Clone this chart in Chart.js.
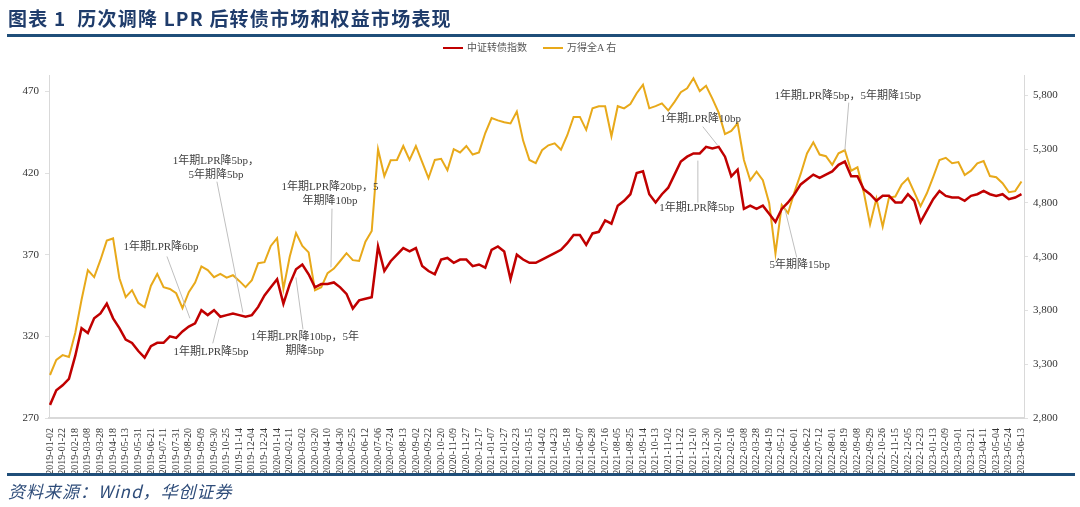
<!DOCTYPE html>
<html><head><meta charset="utf-8">
<script src="https://cdn.jsdelivr.net/npm/chart.js@4/dist/chart.umd.min.js"></script>
<style>
html,body{margin:0;padding:0;background:#fff;}
#wrap{position:relative;width:1080px;height:507px;overflow:hidden;}
#c{position:absolute;left:0;top:0;}
.title{position:absolute;left:8px;top:4px;font-family:"Noto Sans CJK SC",sans-serif;font-weight:bold;font-size:19px;color:#1f3c6b;white-space:nowrap;letter-spacing:1.2px;}
.rule{position:absolute;left:7px;width:1068px;height:3px;background:#1f4e79;}
.src{position:absolute;left:8px;top:478px;font-family:"Noto Sans CJK SC",sans-serif;font-style:italic;font-size:17px;letter-spacing:1px;color:#2f4d7a;white-space:nowrap;}
.leg{position:absolute;top:41px;font-family:"Liberation Serif","Noto Sans CJK SC",serif;font-size:10px;color:#555;white-space:nowrap;line-height:14px;}
.leg i{display:inline-block;width:20px;height:2px;vertical-align:middle;margin-right:4px;position:relative;top:-1px;}
</style></head>
<body><div id="wrap">
<canvas id="c" width="1080" height="507"></canvas>
<div class="title">图表 1&nbsp; 历次调降 LPR 后转债市场和权益市场表现</div>
<div class="rule" style="top:34px"></div>
<div class="leg" style="left:443px"><i style="background:#C00000"></i>中证转债指数</div>
<div class="leg" style="left:543px"><i style="background:#E8A91A"></i>万得全A 右</div>
<div class="rule" style="top:473px"></div>
<div class="src">资料来源：Wind，华创证券</div>
</div>
<script>
const tickLabels = ['2019-01-02','2019-01-22','2019-02-18','2019-03-08','2019-03-28','2019-04-18','2019-05-13','2019-05-31','2019-06-21','2019-07-11','2019-07-31','2019-08-20','2019-09-09','2019-09-30','2019-10-25','2019-11-14','2019-12-04','2019-12-24','2020-01-14','2020-02-11','2020-03-02','2020-03-20','2020-04-10','2020-04-30','2020-05-25','2020-06-12','2020-07-06','2020-07-24','2020-08-13','2020-09-02','2020-09-22','2020-10-20','2020-11-09','2020-11-27','2020-12-17','2021-01-07','2021-01-27','2021-02-23','2021-03-15','2021-04-02','2021-04-23','2021-05-18','2021-06-07','2021-06-28','2021-07-16','2021-08-05','2021-08-25','2021-09-14','2021-10-13','2021-11-02','2021-11-22','2021-12-10','2021-12-30','2022-01-20','2022-02-16','2022-03-08','2022-03-28','2022-04-19','2022-05-12','2022-06-01','2022-06-22','2022-07-12','2022-08-01','2022-08-19','2022-09-08','2022-09-29','2022-10-26','2022-11-15','2022-12-05','2022-12-23','2023-01-13','2023-02-09','2023-03-01','2023-03-21','2023-04-11','2023-05-04','2023-05-24','2023-06-13'];

// values sampled every half tick interval (7 trading days)
const cbValues = [
278,287,290,294,308,325,322,331,334,340,
331,325,318,316,311,307,314,316,316,320,
319,323,326,328,336,333,336,332,333,334,
333,332,333,338,345,350,355,340,352,361,
364,358,350,352,352,353,350,346,337,342,
343,344,375,360,366,370,374,372,374,363,
360,358,367,368,365,367,367,363,364,362,
373,375,372,355,370,367,365,365,367,369,
371,373,377,382,382,376,383,384,391,389,
400,403,407,420,421,407,402,407,411,419,
427,430,432,432,436,435,436,430,418,422,
398,400,398,400,395,390,398,402,407,413,
416,419,417,419,421,425,427,418,418,410,
407,403,406,406,402,402,407,403,390,397,
404,409,406,405,405,403,406,407,409,407,
406,407,404,405,407];

const waValues = [
3200,3340,3385,3367,3590,3900,4175,4110,4270,4450,
4470,4100,3924,3989,3870,3830,4030,4140,4017,4000,
3960,3822,3970,4060,4210,4175,4110,4140,4105,4128,
4075,4017,4082,4240,4249,4400,4472,4000,4300,4520,
4400,4340,3989,4017,4147,4190,4260,4333,4268,4260,
4440,4540,5300,5050,5197,5200,5330,5200,5330,5180,
5030,5200,5210,5104,5300,5270,5330,5250,5270,5450,
5590,5568,5550,5540,5650,5380,5200,5170,5290,5336,
5355,5295,5430,5600,5600,5480,5680,5700,5700,5420,
5700,5680,5720,5820,5900,5680,5700,5726,5660,5740,
5830,5866,5960,5840,5890,5770,5640,5440,5470,5540,
5200,5011,5090,5011,4800,4330,4780,4705,4900,5070,
5260,5364,5250,5235,5155,5262,5290,5100,5132,4900,
4600,4840,4580,4850,4860,4970,5030,4900,4770,4890,
5040,5200,5220,5169,5180,5060,5100,5169,5190,5050,
5039,4983,4900,4910,5000];

const leftTicks = [270,320,370,420,470];
const rightTicks = [2800,3300,3800,4300,4800,5300,5800];

// annotations: text lines anchored in (tick index, left-axis value); leader line from->to
const notes = [
  {lines:['1年期LPR降6bp'], at:[8.8,374.4], from:[9.27,368.9], to:[11.09,331]},
  {lines:['1年期LPR降5bp'], at:[12.76,310.2], from:[12.9,315.7], to:[13.4,331]},
  {lines:['1年期LPR降5bp，','5年期降5bp'], at:[13.15,427], from:[13.23,414.7], to:[15.29,334.6]},
  {lines:['1年期LPR降10bp，5年','期降5bp'], at:[20.2,319.4], from:[20.05,324.3], to:[19.49,356.1]},
  {lines:['1年期LPR降20bp，5','年期降10bp'], at:[22.19,411.1], from:[22.35,398.2], to:[22.27,362.2]},
  {lines:['1年期LPR降10bp'], at:[51.58,453.3], from:[51.74,448.4], to:[52.93,436.8]},
  {lines:['1年期LPR降5bp'], at:[51.27,398.3], from:[51.35,401.9], to:[51.35,427.6]},
  {lines:['5年期降15bp'], at:[59.43,363.9], from:[59.19,368.3], to:[58.24,398.3]},
  {lines:['1年期LPR降5bp，5年期降15bp'], at:[63.23,467.3], from:[63.31,463.1], to:[63.0,433.7]}
];

const FONT = '"Liberation Serif","Noto Sans CJK SC",serif';

const notePlugin = {
  id:'notes',
  afterDatasetsDraw(chart){
    const ctx = chart.ctx, xs = chart.scales.x, ys = chart.scales.y;
    ctx.save();
    notes.forEach(n=>{
      ctx.strokeStyle = '#bfbfbf'; ctx.lineWidth = 1;
      ctx.beginPath();
      ctx.moveTo(xs.getPixelForValue(n.from[0]), ys.getPixelForValue(n.from[1]));
      ctx.lineTo(xs.getPixelForValue(n.to[0]), ys.getPixelForValue(n.to[1]));
      ctx.stroke();
    });
    ctx.font = '11px ' + FONT;
    ctx.fillStyle = '#404040';
    ctx.textAlign = 'center'; ctx.textBaseline = 'middle';
    notes.forEach(n=>{
      const x = xs.getPixelForValue(n.at[0]);
      const y = ys.getPixelForValue(n.at[1]);
      n.lines.forEach((t,i)=>{ ctx.fillText(t, x, y + i*14); });
    });
    ctx.restore();
  }
};

new Chart(document.getElementById('c'), {
  type:'line',
  data:{datasets:[
    {label:'中证转债指数', data: cbValues.map((v,i)=>({x:i/2, y:v})), yAxisID:'y',
     borderColor:'#C00000', borderWidth:2.5, pointRadius:0, tension:0, order:0},
    {label:'万得全A 右', data: waValues.map((v,i)=>({x:i/2, y:v})), yAxisID:'y1',
     borderColor:'#E8A91A', borderWidth:2, pointRadius:0, tension:0, order:1}
  ]},
  options:{
    responsive:false, animation:false, devicePixelRatio:1,
    layout:{padding:{top:75,left:0,right:0,bottom:0}},
    plugins:{legend:{display:false}, tooltip:{enabled:false}},
    scales:{
      x:{type:'linear', min:-0.08, max:77.2,
        afterBuildTicks(s){ s.ticks = tickLabels.map((_,i)=>({value:i})); },
        afterFit(s){ s.height = 89; },
        ticks:{autoSkip:false, maxRotation:90, minRotation:90, padding:2,
          font:{family:FONT, size:10}, color:'#333',
          callback:(v)=>tickLabels[v]},
        grid:{display:false},
        border:{display:true, color:'#d9d9d9', width:2}
      },
      y:{position:'left', min:270, max:480,
        afterBuildTicks(s){ s.ticks = leftTicks.map(v=>({value:v})); },
        afterFit(s){ s.width = 49; },
        ticks:{font:{family:FONT, size:11}, color:'#333', padding:6},
        grid:{drawOnChartArea:false, tickLength:4, color:'#e0e0e0'},
        border:{color:'#d9d9d9', width:1}
      },
      y1:{position:'right', min:2800, max:5990,
        afterBuildTicks(s){ s.ticks = rightTicks.map(v=>({value:v})); },
        afterFit(s){ s.width = 56; },
        ticks:{font:{family:FONT, size:11}, color:'#333', padding:5,
          callback:(v)=>v.toLocaleString('en-US')},
        grid:{drawOnChartArea:false, tickLength:4, color:'#e0e0e0'},
        border:{color:'#d9d9d9', width:1}
      }
    }
  },
  plugins:[notePlugin]
});
</script>
</body></html>
